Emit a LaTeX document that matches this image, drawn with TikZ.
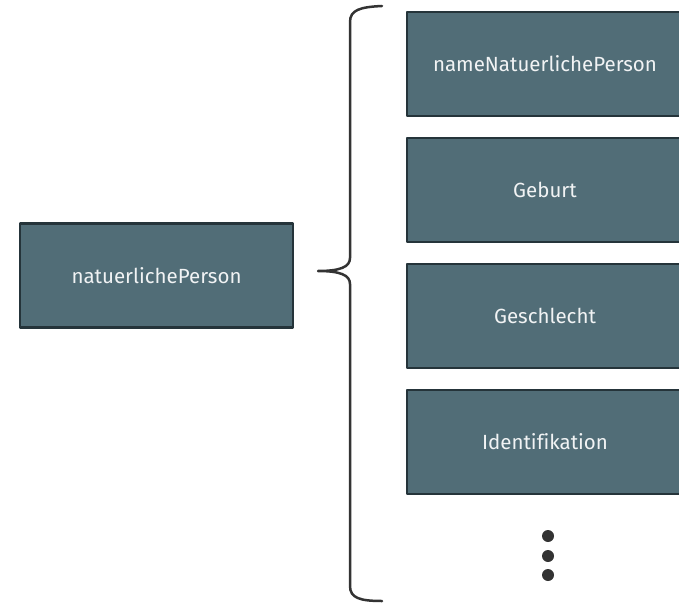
\documentclass[tikz,border=0pt]{standalone}
\usepackage{fontspec}
\setmainfont[Ligatures=NoCommon]{Fira Sans}
\usepackage{xcolor}
\usepackage{tikz}
\definecolor{boxfill}{HTML}{516D77}
\definecolor{boxline}{HTML}{25343A}
\definecolor{bracecol}{HTML}{333333}

\begin{document}
\begin{tikzpicture}[x=1pt, y=-1pt, line cap=round, line join=round,
  elem/.style={draw=boxline, fill=boxfill, line width=2.8pt, text=white!92!boxfill,
    font=\fontsize{20.5}{24}\selectfont, inner sep=0pt, minimum height=104pt},
  dot/.style={circle, fill=bracecol, inner sep=0pt, minimum size=12pt}]
  \useasboundingbox (0,0) rectangle (679,604);
  \node[elem, minimum width=273pt] (person) at (156.5,275.5) {natuerlichePerson};
  \node[elem, minimum width=276pt] (name) at (545,64) {nameNatuerlichePerson};
  \node[elem, minimum width=276pt] (geburt) at (545,190) {Geburt};
  \node[elem, minimum width=276pt] (geschlecht) at (545,316) {Geschlecht};
  \node[elem, minimum width=276pt] (ident) at (545,442) {Identifikation};
  \node[dot] (d1) at (548,536) {};
  \node[dot] (d2) at (548,556) {};
  \node[dot] (d3) at (548,575) {};
  % brace
  \draw[bracecol, line width=2.5pt] (382,6) .. controls (360,7) and (350,10) .. (350,22)
    -- (350,258) .. controls (350,267) and (340,271) .. (318,271)
    .. controls (340,271) and (350,275) .. (350,284)
    -- (350,586) .. controls (350,598) and (360,601) .. (382,601);
\end{tikzpicture}
\end{document}
